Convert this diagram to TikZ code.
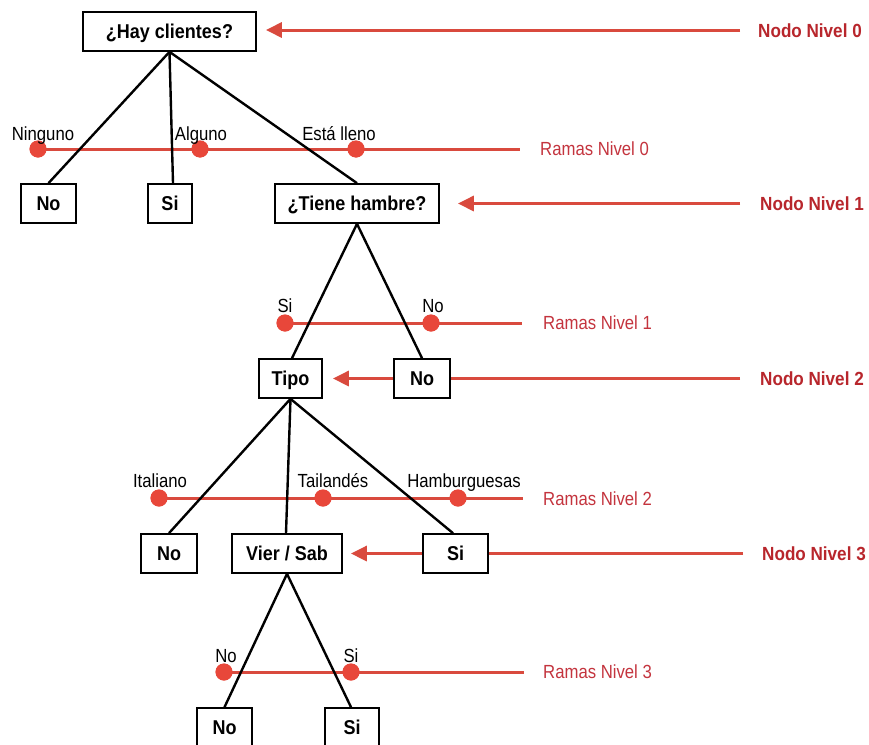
\documentclass[tikz,border=0pt]{standalone}
\usepackage{fontspec}
\setmainfont[FakeStretch=0.88]{Liberation Sans}
\newfontfamily\boxfont[FakeStretch=0.9]{Liberation Sans}
\usetikzlibrary{arrows.meta}
\definecolor{redline}{HTML}{D94A3E}
\definecolor{reddot}{HTML}{E8473A}
\definecolor{nodotext}{HTML}{B8262C}
\definecolor{ramastext}{HTML}{C4343E}
\begin{document}
\begin{tikzpicture}[x=1pt,y=-1pt,
  font=\fontsize{19}{22}\selectfont,
  box/.style={draw=black,line width=1.7pt,fill=white,rectangle,inner sep=0pt,
    minimum height=39pt,text height=14pt,text depth=0pt,font=\boxfont\fontsize{20}{22}\selectfont\bfseries},
  branch/.style={line width=2.4pt,black},
  redbar/.style={line width=3pt,redline},
  dot/.style={circle,fill=reddot,draw=none,minimum size=17pt,inner sep=0pt},
  blabel/.style={anchor=base,inner sep=0pt,black},
  ramas/.style={anchor=west,inner sep=0pt,text height=13.5pt,text depth=0pt,ramastext},
  nodo/.style={anchor=west,inner sep=0pt,text height=14pt,text depth=0pt,nodotext,font=\boxfont\fontsize{19}{22}\selectfont\bfseries},
  nodoarrow/.style={line width=3pt,redline,-{Triangle[length=16pt,width=15pt]}}
]
\clip (0,0) rectangle (869,744);
\fill[white] (0,0) rectangle (869,744);

% ---- red branch guides ----
\node[dot] (d0a) at (38,149) {};
\node[dot] (d0b) at (200,149) {};
\node[dot] (d0c) at (356,149) {};
\coordinate (e0) at (520,149);
\node[dot] (d1a) at (285,323) {};
\node[dot] (d1b) at (431,323) {};
\coordinate (e1) at (522,323);
\node[dot] (d2a) at (159,498) {};
\node[dot] (d2b) at (323,498) {};
\node[dot] (d2c) at (458,498) {};
\coordinate (e2) at (523,498);
\node[dot] (d3a) at (224,672) {};
\node[dot] (d3b) at (351,672) {};
\coordinate (e3) at (524,672);

\draw[redbar] (d0a.center) -- (e0);
\draw[redbar] (d1a.center) -- (e1);
\draw[redbar] (d2a.center) -- (e2);
\draw[redbar] (d3a.center) -- (e3);

% ---- boxes ----
\node[box,minimum width=173pt] (h0) at (169.5,31.5) {¿Hay clientes?};
\node[box,minimum width=55pt] (n1) at (48.5,203.5) {No};
\node[box,minimum width=44pt] (s1) at (170,203.5) {Si};
\node[box,minimum width=164pt] (t1) at (357,203.5) {¿Tiene hambre?};
\node[box,minimum width=63pt] (tipo) at (290.5,378.5) {Tipo};
\node[box,minimum width=56pt] (no2) at (422,378.5) {No};
\node[box,minimum width=56pt] (no3) at (169,553.5) {No};
\node[box,minimum width=110pt] (vs) at (287,553.5) {Vier / Sab};
\node[box,minimum width=65pt] (si3) at (455.5,553.5) {Si};
\node[box,minimum width=55pt] (no4) at (224.5,727.5) {No};
\node[box,minimum width=54pt] (si4) at (352,727.5) {Si};

% nodo arrows
\coordinate (a0) at (740,30);
\coordinate (a1) at (740,203.5);
\coordinate (a2) at (740,378.5);
\coordinate (a3) at (743,553.5);
\draw[nodoarrow] (a0) -- ([xshift=9pt]h0.east |- a0);
\draw[nodoarrow] (a1) -- ([xshift=18pt]t1.east);
\draw[redbar] (a2) -- (no2.east);
\draw[nodoarrow] (no2.west) -- ([xshift=10pt]tipo.east);
\draw[redbar] (a3) -- (si3.east);
\draw[nodoarrow] (si3.west) -- ([xshift=8pt]vs.east);

% ---- tree branches ----
\draw[branch] (h0.south) -- (n1.north);
\draw[branch] (h0.south) -- ([xshift=3pt]s1.north);
\draw[branch] (h0.south) -- (t1.north);
\draw[branch] (t1.south) -- ([xshift=1.5pt]tipo.north);
\draw[branch] (t1.south) -- (no2.north);
\draw[branch] (tipo.south) -- (no3.north);
\draw[branch] (tipo.south) -- ([xshift=-1pt]vs.north);
\draw[branch] (tipo.south) -- ([xshift=-2.5pt]si3.north);
\draw[branch] (vs.south) -- (no4.north);
\draw[branch] (vs.south) -- ([xshift=-1pt]si4.north);

% dots on top
\foreach \d in {d0a,d0b,d0c,d1a,d1b,d2a,d2b,d2c,d3a,d3b}
  \fill[reddot] (\d) circle (8.5pt);

% ---- branch labels ----
\node[blabel] (l0a) at (43,140) {Ninguno};
\node[blabel] (l0b) at (201,140) {Alguno};
\node[blabel] (l0c) at (339,140) {Está lleno};
\node[blabel] (l1a) at (285,312) {Si};
\node[blabel] (l1b) at (433,312) {No};
\node[blabel] (l2a) at (160,487) {Italiano};
\node[blabel] (l2b) at (333,487) {Tailandés};
\node[blabel] (l2c) at (464,487) {Hamburguesas};
\node[blabel] (l3a) at (226,662) {No};
\node[blabel] (l3b) at (351,662) {Si};

% ---- level labels ----
\node[ramas] (r0) at (540,149) {Ramas Nivel 0};
\node[ramas] (r1) at (543,323) {Ramas Nivel 1};
\node[ramas] (r2) at (543,499) {Ramas Nivel 2};
\node[ramas] (r3) at (543,672) {Ramas Nivel 3};
\node[nodo] (k0) at (758,30) {Nodo Nivel 0};
\node[nodo] (k1) at (760,203.5) {Nodo Nivel 1};
\node[nodo] (k2) at (760,378.5) {Nodo Nivel 2};
\node[nodo] (k3) at (762,553.5) {Nodo Nivel 3};
\end{tikzpicture}
\end{document}
